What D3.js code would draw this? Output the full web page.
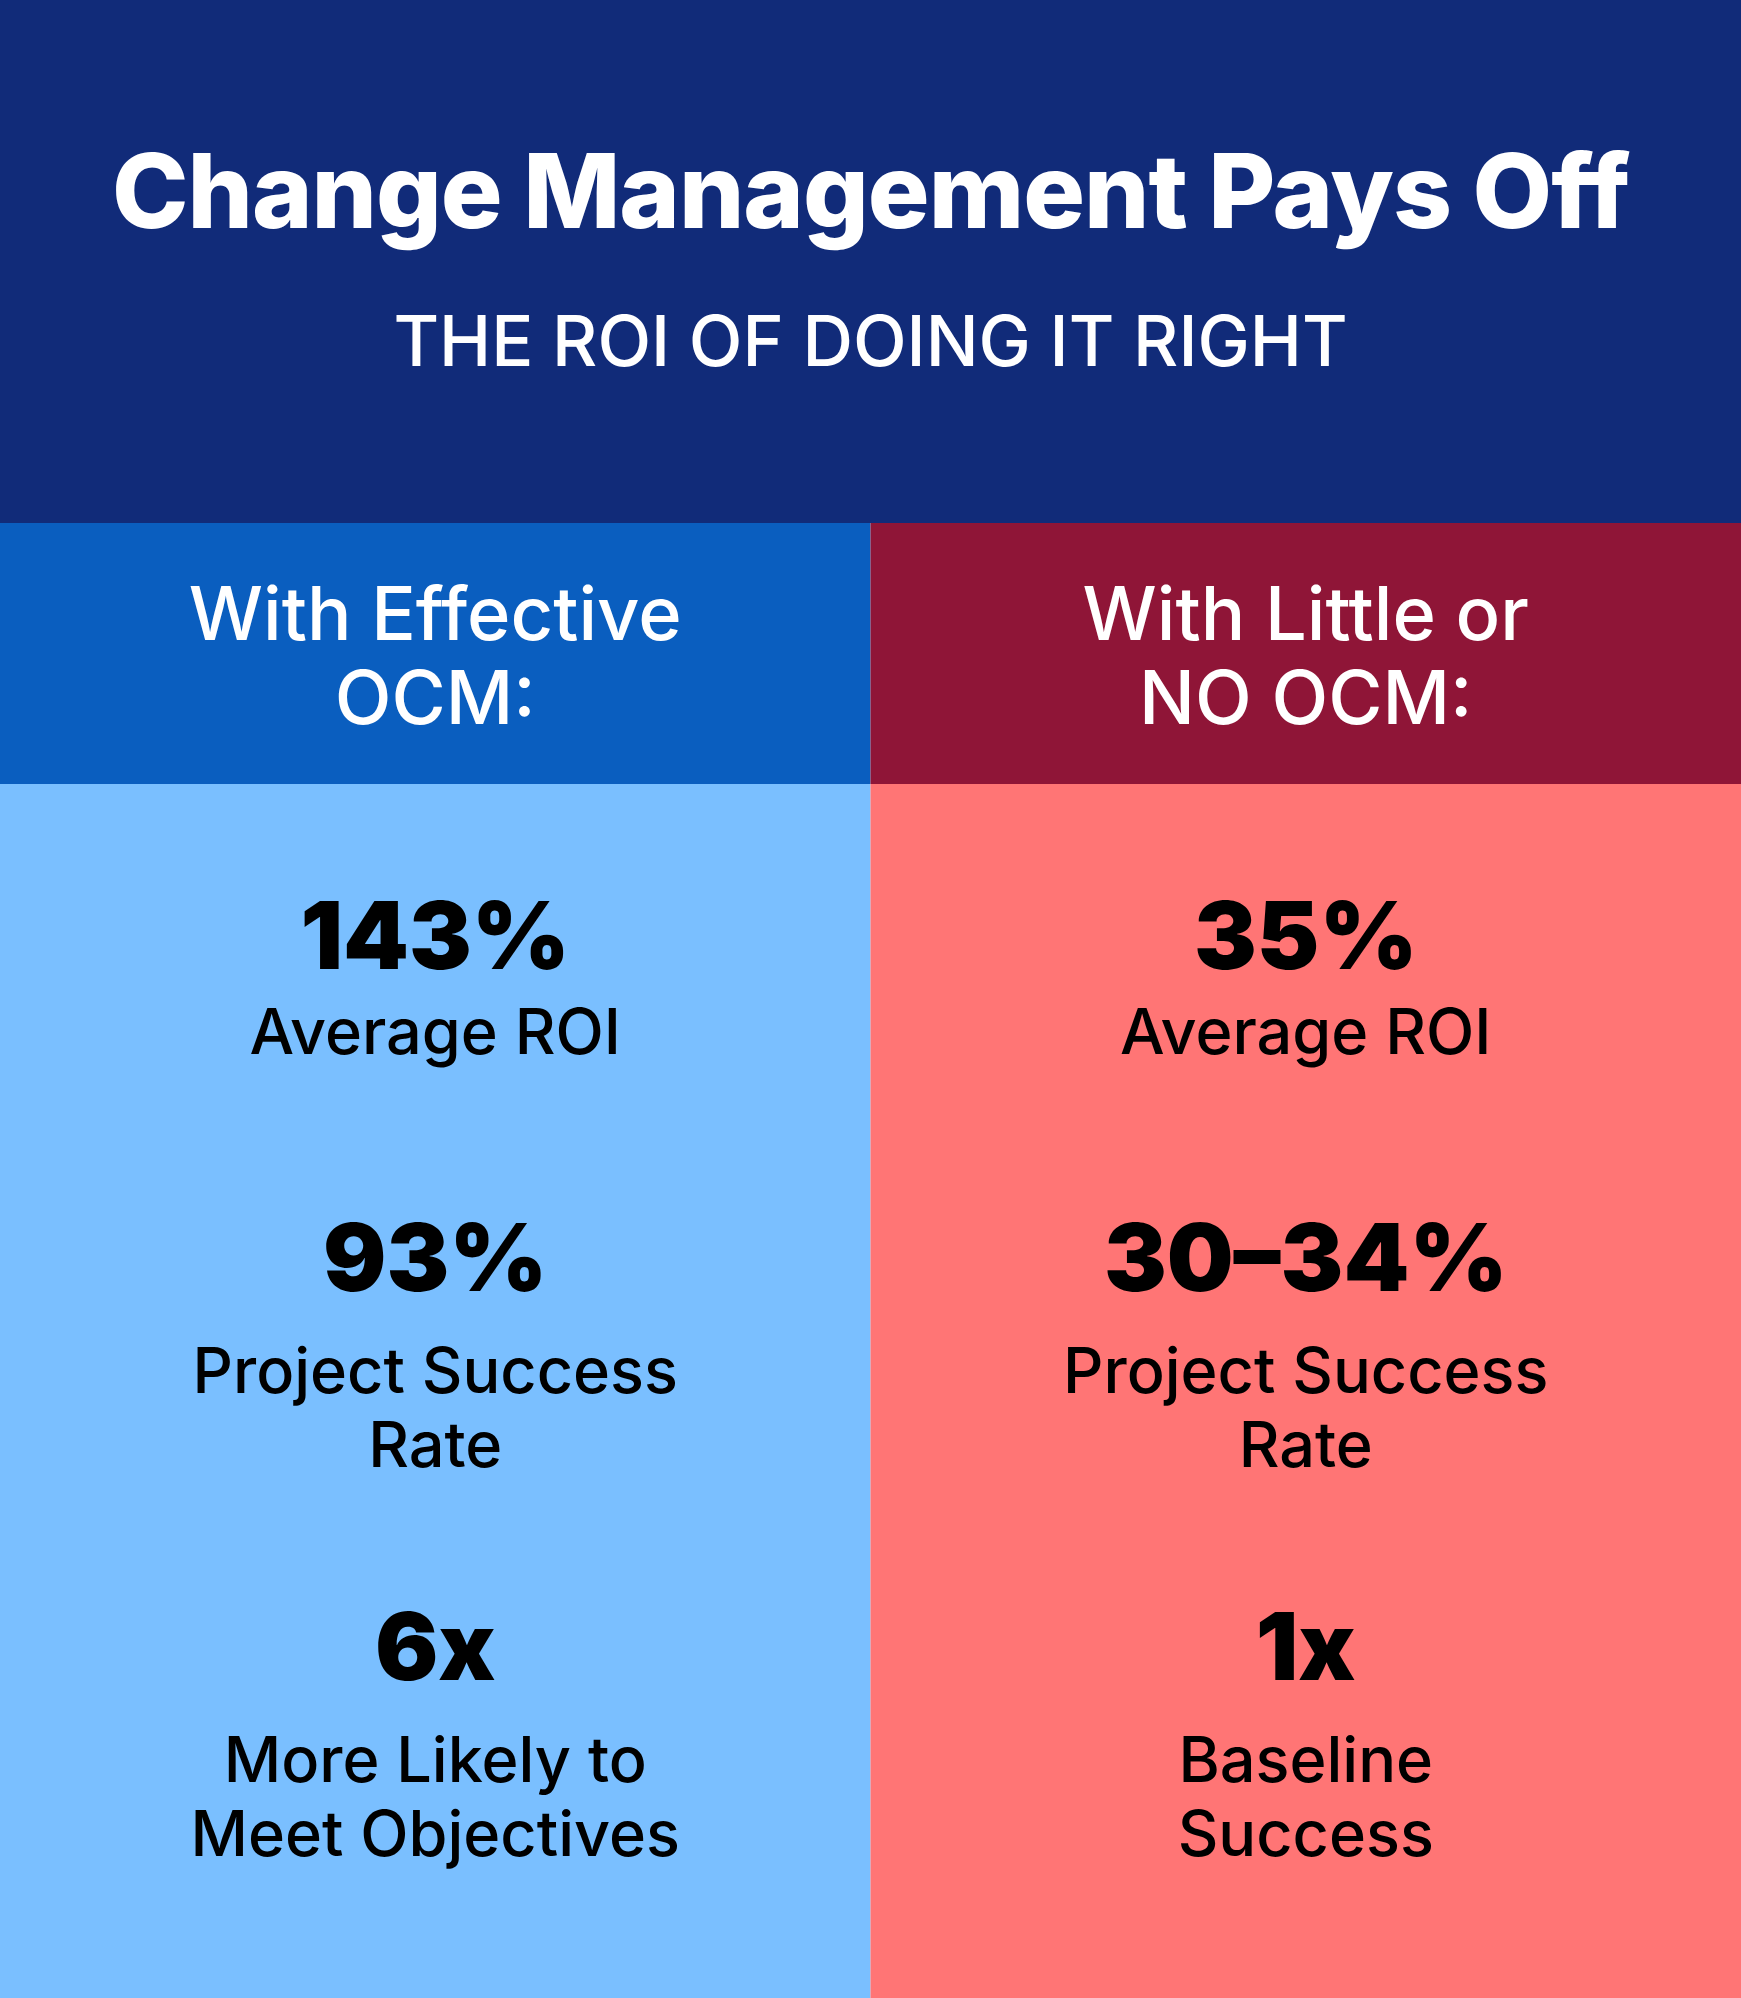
<!DOCTYPE html>
<html><head><meta charset="utf-8">
<script src="https://cdn.jsdelivr.net/npm/d3@7"></script>
<style>body{margin:0;background:#fff}svg{display:block}</style>
</head><body>
<svg id="chart" width="1741" height="1998"></svg>
<script>
// data
var columns = ["With Effective|OCM:", "With Little or|NO OCM:"];
var effectiveValues = ["143%", "93%", "6x"];
var noOcmValues = ["35%", "30–34%", "1x"];
var metricLabels = [["Average ROI"], ["Project Success", "Rate"], ["More Likely to", "Meet Objectives"]];
var noOcmLabels = [["Average ROI"], ["Project Success", "Rate"], ["Baseline", "Success"]];

var W = 1741, H = 1998;
var font = "Inter, 'DejaVu Sans', sans-serif";
var svg = d3.select("#chart");

var x = d3.scaleBand().domain([0, 1]).range([0, W]);
var rowY = d3.scaleOrdinal().domain([0, 1, 2]).range([933, 1255, 1644]);

// header
svg.append("rect").attr("width", W).attr("height", 523).attr("fill", "#112b79");
svg.append("text").attr("x", W / 2).attr("y", 228).attr("text-anchor", "middle")
  .attr("font-family", font).attr("font-weight", 800).attr("font-size", 103)
  .attr("fill", "#fff").attr("letter-spacing", -1).text("Change Management Pays Off");
svg.append("text").attr("x", W / 2).attr("y", 366).attr("text-anchor", "middle")
  .attr("font-family", font).attr("font-weight", 500).attr("font-size", 70)
  .attr("fill", "#fff").text("THE ROI OF DOING IT RIGHT");

var headFill = ["#0a5ebf", "#8f1537"], bodyFill = ["#7abfff", "#ff7575"];
var vals = [effectiveValues, noOcmValues], labs = [metricLabels, noOcmLabels];

columns.forEach(function (c, i) {
  var cx = x(i) + x.bandwidth() / 2;
  svg.append("rect").attr("x", x(i)).attr("y", 523).attr("width", x.bandwidth()).attr("height", 261).attr("fill", headFill[i]);
  svg.append("rect").attr("x", x(i)).attr("y", 784).attr("width", x.bandwidth()).attr("height", H - 784).attr("fill", bodyFill[i]);
  c.split("|").forEach(function (line, k) {
    svg.append("text").attr("x", cx).attr("y", 640 + k * 84).attr("text-anchor", "middle")
      .attr("font-family", font).attr("font-weight", 500).attr("font-size", 74).attr("fill", "#fff").text(line);
  });
  vals[i].forEach(function (v, r) {
    var y = rowY(r);
    svg.append("text").attr("x", cx).attr("y", y + 36).attr("text-anchor", "middle")
      .attr("font-family", font).attr("font-weight", 900).attr("font-size", 94).attr("fill", "#000").text(v);
    labs[i][r].forEach(function (line, k) {
      svg.append("text").attr("x", cx).attr("y", y + (r === 0 ? 121 : 138) + k * 74).attr("text-anchor", "middle")
        .attr("font-family", font).attr("font-weight", 500).attr("font-size", 63).attr("fill", "#000").text(line);
    });
  });
});
</script>
</body></html>
